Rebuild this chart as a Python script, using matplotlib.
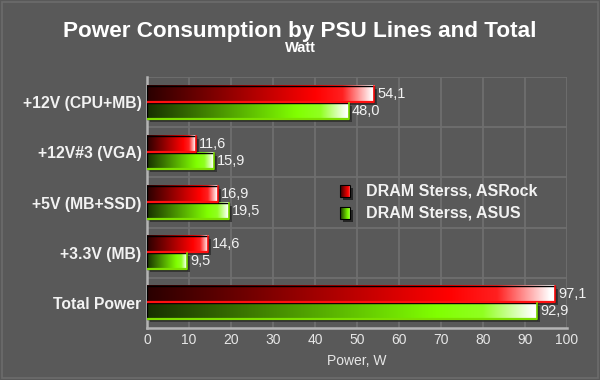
import numpy as np
import matplotlib
matplotlib.use("Agg")
import matplotlib.pyplot as plt
import matplotlib.transforms as mtransforms
from matplotlib.colors import LinearSegmentedColormap
from matplotlib.patches import Rectangle

categories = ["+12V (CPU+MB)", "+12V#3 (VGA)", "+5V (MB+SSD)", "+3.3V (MB)", "Total Power"]
asrock = [54.1, 11.6, 16.9, 14.6, 97.1]
asus = [48.0, 15.9, 19.5, 9.5, 92.9]
series_names = ["DRAM Sterss, ASRock", "DRAM Sterss, ASUS"]
xticks = [0, 10, 20, 30, 40, 50, 60, 70, 80, 90, 100]

plt.rcParams['font.family'] = ['Liberation Sans', 'DejaVu Sans']

BG = "#595959"
GRID = "#6f6f6f"
TXT = "#f2f2f2"

red_cmap = LinearSegmentedColormap.from_list(
    "redbar", [(0, "#2a0000"), (0.74, "#ff0000"), (0.86, "#ff2020"), (0.99, "#ffffff"), (1, "#ffffff")])
green_cmap = LinearSegmentedColormap.from_list(
    "greenbar", [(0, "#173000"), (0.74, "#80ff00"), (0.86, "#90ff20"), (0.99, "#ffffff"), (1, "#ffffff")])
edge_colors = ["#ff1010", "#7de000"]

fig = plt.figure(figsize=(6, 3.8), dpi=100, facecolor=BG)
fig.patches.append(Rectangle((0.004, 0.006), 0.992, 0.988, transform=fig.transFigure,
                             fill=False, edgecolor="#6c6c6c", lw=1.2))
ax = fig.add_axes([0.245, 0.137, 0.7, 0.66])
ax.set_facecolor(BG)

h = 0.32
grad = np.linspace(0, 1, 256).reshape(1, -1)
shadow_tr = mtransforms.offset_copy(ax.transData, fig, x=3, y=-3, units='dots')

for i in range(len(categories)):
    for k, (vals, cmap) in enumerate([(asrock, red_cmap), (asus, green_cmap)]):
        v = vals[i]
        yc = i - 0.17 if k == 0 else i + 0.17
        top, bot = yc - h / 2, yc + h / 2
        ax.add_patch(Rectangle((0, top), v, h, transform=shadow_tr,
                               facecolor="#2e2e2e", edgecolor="none", alpha=0.8, zorder=2))
        ax.imshow(grad, cmap=cmap, extent=(0, v, bot, top), aspect='auto',
                  interpolation='bilinear', zorder=3)
        ax.add_patch(Rectangle((0, top), v, h, fill=False, edgecolor="#000000", lw=1.0, zorder=4))
        ax.plot([0, v], [bot, bot], color=edge_colors[k], lw=1.6, zorder=5, solid_capstyle='butt')
        ax.plot([v, v], [top, bot], color=edge_colors[k], lw=1.2, zorder=5)
        ax.text(v + 0.8, yc, f"{v:.1f}".replace(".", ","), color=TXT, fontsize=10.5,
                va='center', ha='left', zorder=6)

ax.set_xticks(xticks)
ax.set_xticklabels([str(t) for t in xticks], color="#e6e6e6", fontsize=10)
ax.set_yticks(range(len(categories)))
ax.set_yticklabels(categories, color=TXT, fontsize=11.3, fontweight='bold')
ax.tick_params(length=0, pad=4)
for x in xticks[1:]:
    ax.axvline(x, color=GRID, lw=1.3, zorder=1)
for y in [-0.5, 0.5, 1.5, 2.5, 3.5]:
    ax.axhline(y, color=GRID, lw=1.3, zorder=1)
for s in ['top', 'right']:
    ax.spines[s].set_visible(False)
for s in ['left', 'bottom']:
    ax.spines[s].set_color("#b4b4b4")
    ax.spines[s].set_linewidth(1.8)
ax.set_xlabel("Power, W", color="#e6e6e6", fontsize=10, labelpad=5)

# legend drawn by hand
leg_cmaps = [red_cmap, green_cmap]
leg_grad = np.linspace(0, 0.8, 64).reshape(1, -1)
for k, name in enumerate(series_names):
    yc = 0.546 - k * 0.088
    x0, w, hh = 0.460, 0.024, 0.046
    ax.add_patch(Rectangle((x0 + 0.006, yc - hh / 2 - 0.012), w, hh, transform=ax.transAxes,
                           facecolor="#262626", edgecolor="none", zorder=6))
    ax.imshow(leg_grad, cmap=leg_cmaps[k], extent=(x0, x0 + w, yc - hh / 2, yc + hh / 2),
              transform=ax.transAxes, aspect='auto', zorder=7)
    ax.add_patch(Rectangle((x0, yc - hh / 2), w, hh, transform=ax.transAxes, fill=False,
                           edgecolor="#000000", lw=0.8, zorder=8))
    ax.text(0.521, yc, name, transform=ax.transAxes, color=TXT, fontsize=11.5,
            fontweight='bold', va='center', ha='left', zorder=7)

ax.set_xlim(0, 100)
ax.set_ylim(4.5, -0.5)

fig.text(0.5, 0.918, "Power Consumption by PSU Lines and Total", color="#ffffff",
         fontsize=16.2, fontweight='bold', ha='center', va='center')
fig.text(0.5, 0.874, "Watt", color="#ffffff", fontsize=10.5, fontweight='bold',
         ha='center', va='center')

fig.savefig("out.png", dpi=100, facecolor=BG)
